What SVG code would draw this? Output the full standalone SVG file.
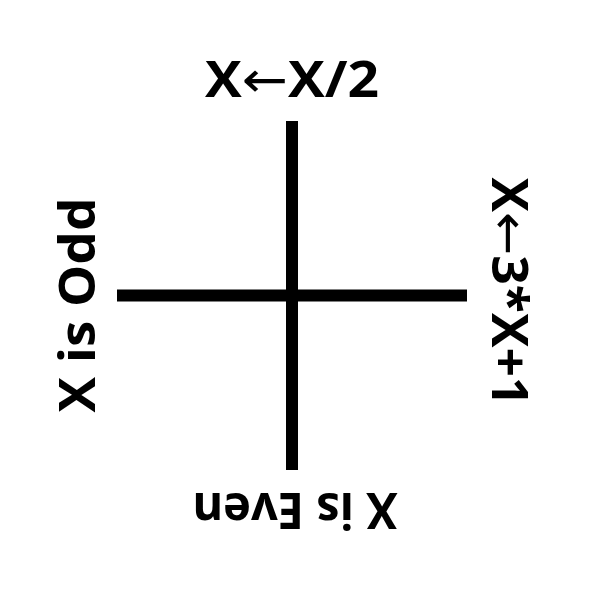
<svg xmlns="http://www.w3.org/2000/svg" width="600" height="600" viewBox="0 0 600 600">
<style>
.lbl{font-family:"Open Sans","Liberation Sans","DejaVu Sans",sans-serif;font-weight:bold;font-size:50px;fill:#000;text-anchor:middle}
.arr{font-family:"DejaVu Sans",sans-serif;font-weight:normal}
.ax{stroke:#000;stroke-width:12;fill:none}
</style>
<rect width="600" height="600" fill="#fff"/>
<g id="connectors">
<line class="ax" x1="292" y1="121" x2="292" y2="470"/>
<line class="ax" x1="117" y1="295.5" x2="467" y2="295.5"/>
</g>
<g id="top"><text class="lbl" x="292" y="97" textLength="174" lengthAdjust="spacingAndGlyphs">X<tspan class="arr">←</tspan>X/2</text></g>
<g id="bottom"><text class="lbl" transform="translate(295,493) rotate(180)" x="0" y="0" textLength="205" lengthAdjust="spacingAndGlyphs">X is Even</text></g>
<g id="left"><text class="lbl" transform="translate(95,305) rotate(-90)" x="0" y="0" textLength="215" lengthAdjust="spacingAndGlyphs">X is Odd</text></g>
<g id="right"><text class="lbl" transform="translate(492,292) rotate(90)" x="0" y="0" textLength="229" lengthAdjust="spacingAndGlyphs">X<tspan class="arr">←</tspan>3*X+1</text></g>
</svg>
